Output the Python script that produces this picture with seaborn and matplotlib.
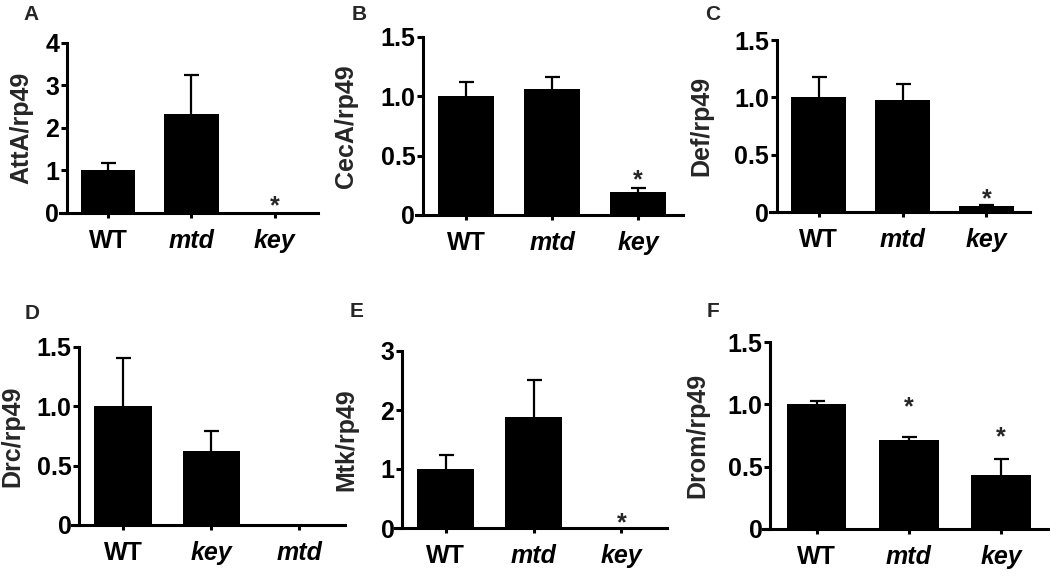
import pandas as pd
import seaborn as sns
import matplotlib.pyplot as plt

# A: AttA
atta_genotype = ['WT', 'mtd', 'key']
atta_mean = [1.0, 2.33, 0.005]
atta_sem = [0.18, 0.92, 0.0]
atta_stars = {'key': 0.31}

# B: CecA
ceca_genotype = ['WT', 'mtd', 'key']
ceca_mean = [1.0, 1.06, 0.19]
ceca_sem = [0.12, 0.10, 0.04]
ceca_stars = {'key': 0.35}

# C: Def
def_genotype = ['WT', 'mtd', 'key']
def_mean = [1.0, 0.98, 0.05]
def_sem = [0.18, 0.14, 0.015]
def_stars = {'key': 0.17}

# D: Drc
drc_genotype = ['WT', 'key', 'mtd']
drc_mean = [1.0, 0.62, 0.0]
drc_sem = [0.41, 0.17, 0.0]
drc_stars = {}

# E: Mtk
mtk_genotype = ['WT', 'mtd', 'key']
mtk_mean = [1.0, 1.88, 0.005]
mtk_sem = [0.24, 0.63, 0.0]
mtk_stars = {'key': 0.19}

# F: Drom
drom_genotype = ['WT', 'mtd', 'key']
drom_mean = [1.0, 0.71, 0.43]
drom_sem = [0.025, 0.03, 0.13]
drom_stars = {'mtd': 1.03, 'key': 0.79}

sns.set_style('ticks')
plt.rcParams['font.family'] = ['Liberation Sans', 'DejaVu Sans']
plt.rcParams['font.weight'] = 'bold'

W, H = 1050, 579
fig = plt.figure(figsize=(W / 100, H / 100), dpi=100)

panels = [
    ('A', 'AttA/rp49', atta_genotype, atta_mean, atta_sem, atta_stars, 4, [0, 1, 2, 3, 4], ['0', '1', '2', '3', '4'],
     (60, 318, 43, 213), 21, (23, 5)),
    ('B', 'CecA/rp49', ceca_genotype, ceca_mean, ceca_sem, ceca_stars, 1.5, [0, 0.5, 1.0, 1.5], ['0', '0.5', '1.0', '1.5'],
     (416, 683, 37, 215), 346, (352, 5)),
    ('C', 'Def/rp49', def_genotype, def_mean, def_sem, def_stars, 1.5, [0, 0.5, 1.0, 1.5], ['0', '0.5', '1.0', '1.5'],
     (770, 1030, 40, 212), 701, (705, 5)),
    ('D', 'Drc/rp49', drc_genotype, drc_mean, drc_sem, drc_stars, 1.5, [0, 0.5, 1.0, 1.5], ['0', '0.5', '1.0', '1.5'],
     (72, 345, 347, 525), 12, (25, 304)),
    ('E', 'Mtk/rp49', mtk_genotype, mtk_mean, mtk_sem, mtk_stars, 3, [0, 1, 2, 3], ['0', '1', '2', '3'],
     (395, 667, 351, 528), 346, (350, 302)),
    ('F', 'Drom/rp49', drom_genotype, drom_mean, drom_sem, drom_stars, 1.5, [0, 0.5, 1.0, 1.5], ['0', '0.5', '1.0', '1.5'],
     (763, 1049, 342, 529), 697, (707, 302)),
]

for letter, ylab, geno, mean, sem, stars, ymax, yt, ytl, (l, r, t, b), labx, (lx, ly) in panels:
    ax = fig.add_axes([l / W, 1 - b / H, (r - l) / W, (b - t) / H])
    df = pd.DataFrame({'genotype': geno, 'value': mean, 'sem': sem})
    sns.barplot(data=df, x='genotype', y='value', order=geno, color='black',
                saturation=1, width=0.65, errorbar=None, ax=ax)
    for p in ax.patches:
        p.set_zorder(3)
        p.set_edgecolor('black')
        p.set_linewidth(0)
    # symmetric SEM drawn behind the bars, so only the upper half shows
    up = df[df['sem'] > 0]
    ax.errorbar(x=[geno.index(g) for g in up['genotype']], y=up['value'],
                yerr=up['sem'], fmt='none', ecolor='black',
                elinewidth=1.6, capsize=5.4, capthick=1.6, zorder=1)
    for g, ys in stars.items():
        ax.annotate('*', xy=(geno.index(g), ys), xytext=(0, -10), textcoords='offset points',
                    ha='center', va='baseline', fontsize=18, fontweight='bold',
                    annotation_clip=False)

    # spine placement first: it resets the tick objects
    for s in ['top', 'right']:
        ax.spines[s].set_visible(False)
    ax.spines['left'].set_position(('data', -0.5))
    ax.spines['left'].set_bounds(0, ymax)
    for s in ['left', 'bottom']:
        ax.spines[s].set_linewidth(2.2)
        ax.spines[s].set_color('black')
        ax.spines[s].set_zorder(4)

    ax.set_xlim(-0.58, 2.52)
    ax.set_ylim(0, ymax)
    ax.set_yticks(yt)
    ax.set_yticklabels(ytl)
    ax.set_xticks(range(3))
    ax.set_xticklabels(geno)
    ax.tick_params(axis='y', length=4.5, width=2.2, pad=1, colors='black', labelsize=18)
    ax.tick_params(axis='x', length=3.6, width=2.2, pad=8, colors='black', labelsize=18)
    for tl in ax.get_xticklabels() + ax.get_yticklabels():
        tl.set_fontweight('bold')
    for tl, g in zip(ax.get_xticklabels(), geno):
        if g != 'WT':
            tl.set_style('italic')
    ax.set_xlabel('')
    ax.set_ylabel(ylab, fontsize=18, fontweight='bold', va='center')
    ax.yaxis.set_label_coords((labx - l) / (r - l), 0.5)
    ax.patch.set_alpha(0)

    fig.text(lx / W, 1 - ly / H, letter, ha='left', va='top', fontsize=15, fontweight='bold')

fig.savefig('out.png', dpi=100)
